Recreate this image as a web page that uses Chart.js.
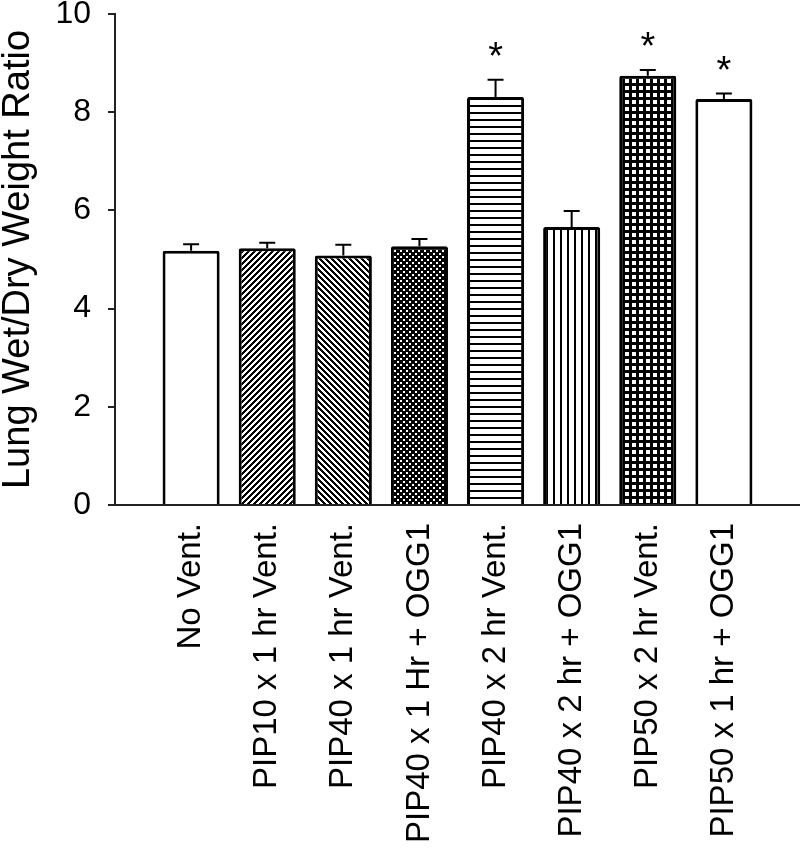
<!DOCTYPE html>
<html>
<head>
<meta charset="utf-8">
<script src="https://cdn.jsdelivr.net/npm/chart.js@4"></script>
<style>
  html, body { margin: 0; padding: 0; background: #fff; }
</style>
</head>
<body>
<canvas id="chart" width="800" height="862"></canvas>
<script>
// data
const groups = [
  'No Vent.',
  'PIP10 x 1 hr Vent.',
  'PIP40 x 1 hr Vent.',
  'PIP40 x 1 Hr + OGG1',
  'PIP40 x 2 hr Vent.',
  'PIP40 x 2 hr + OGG1',
  'PIP50 x 2 hr Vent.',
  'PIP50 x 1 hr + OGG1'
];
const ratio = [5.18, 5.23, 5.08, 5.27, 8.31, 5.66, 8.74, 8.27];
const sem = [0.13, 0.11, 0.22, 0.15, 0.35, 0.33, 0.12, 0.11];
const signif = ['', '', '', '', '*', '', '*', '*'];
const yTicks = [0, 2, 4, 6, 8, 10];

const canvas = document.getElementById('chart');
const ctx = canvas.getContext('2d');

// black/white hatch tiles, one per bar
function tile(w, h, isBlack) {
  const c = document.createElement('canvas');
  c.width = w; c.height = h;
  const cx = c.getContext('2d');
  const img = cx.createImageData(w, h);
  for (let y = 0; y < h; y++) {
    for (let x = 0; x < w; x++) {
      const v = isBlack(x, y) ? 0 : 255;
      const k = (y * w + x) * 4;
      img.data[k] = img.data[k + 1] = img.data[k + 2] = v;
      img.data[k + 3] = 255;
    }
  }
  cx.putImageData(img, 0, 0);
  return ctx.createPattern(c, 'repeat');
}

const fills = [
  '#ffffff',
  tile(6, 6, (x, y) => (x + y) % 6 < 3),
  tile(6, 6, (x, y) => ((x - y) % 6 + 6) % 6 < 3),
  tile(6, 6, (x, y) => !((x >= 1 && x <= 2 && y >= 1 && y <= 2) || (x >= 4 && x <= 5 && y >= 4 && y <= 5))),
  tile(1, 7, (x, y) => y < 2),
  tile(7, 1, (x) => x < 2),
  tile(7, 7, (x, y) => !(x >= 2 && x <= 5 && y >= 2 && y <= 5)),
  '#ffffff'
];

const errorBars = {
  id: 'errorBars',
  afterDatasetsDraw(chart) {
    const y = chart.scales.y;
    const meta = chart.getDatasetMeta(0);
    const c = chart.ctx;
    c.save();
    c.strokeStyle = '#000';
    c.lineWidth = 2;
    c.fillStyle = '#000';
    c.font = '38px "Liberation Sans", Arial, sans-serif';
    c.textAlign = 'center';
    c.textBaseline = 'alphabetic';
    meta.data.forEach((bar, i) => {
      const top = y.getPixelForValue(ratio[i] + sem[i]);
      c.beginPath();
      c.moveTo(bar.x, bar.y);
      c.lineTo(bar.x, top);
      c.moveTo(bar.x - 8, top);
      c.lineTo(bar.x + 8, top);
      c.stroke();
      if (signif[i]) {
        const m = c.measureText(signif[i]);
        const mid = top - 31;
        const base = mid - (m.actualBoundingBoxDescent - m.actualBoundingBoxAscent) / 2;
        c.fillText(signif[i], bar.x, base);
      }
    });
    c.restore();
  }
};

Chart.defaults.font.family = '"Liberation Sans", Arial, sans-serif';
Chart.defaults.color = '#000';

new Chart(ctx, {
  type: 'bar',
  data: {
    datasets: [{
      data: ratio.map((v, i) => ({ x: i, y: v })),
      backgroundColor: fills,
      borderColor: '#000',
      borderWidth: 3,
      borderRadius: 2,
      barPercentage: 0.75,
      categoryPercentage: 1
    }]
  },
  options: {
    responsive: false,
    animation: false,
    events: [],
    layout: { padding: 0 },
    plugins: { legend: { display: false }, tooltip: { enabled: false } },
    scales: {
      x: {
        type: 'linear',
        offset: false,
        min: -1,
        max: 8,
        grid: { display: false, drawTicks: false, offset: false },
        border: { display: true, color: '#222', width: 2 },
        ticks: {
          stepSize: 1,
          autoSkip: false,
          minRotation: 90,
          maxRotation: 90,
          padding: 18,
          font: { size: 33, lineHeight: 1 },
          callback: v => groups[v] ?? ''
        },
        afterFit: s => { s.height = 357; s.paddingLeft = 0; s.paddingRight = 0; }
      },
      y: {
        min: 0,
        max: 10,
        afterBuildTicks: s => { s.ticks = yTicks.map(v => ({ value: v })); },
        grid: { drawOnChartArea: false, drawTicks: true, tickLength: 7, color: '#222', lineWidth: 2 },
        border: { display: true, color: '#222', width: 2 },
        ticks: { padding: 17, font: { size: 32, lineHeight: 1 } },
        title: {
          display: true,
          text: 'Lung Wet/Dry Weight Ratio',
          font: { size: 38, lineHeight: 1 },
          padding: 0
        },
        afterFit: s => { s.width = 115; s.paddingTop = 14; }
      }
    }
  },
  plugins: [errorBars]
});
</script>
</body>
</html>
